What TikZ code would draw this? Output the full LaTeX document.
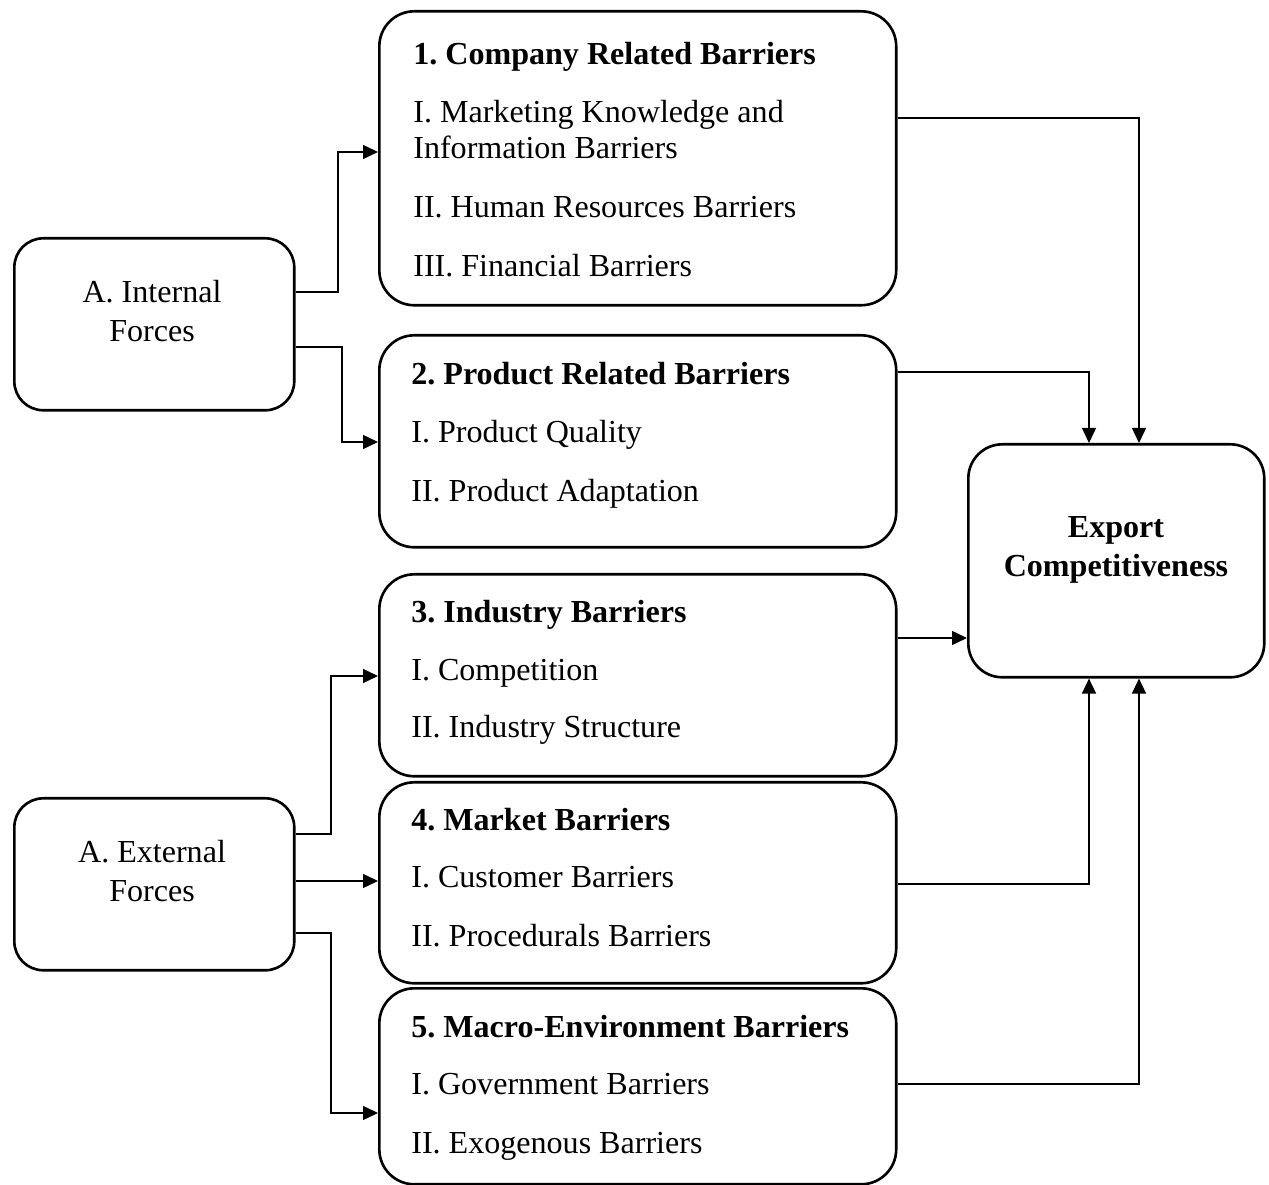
\documentclass[tikz,border=0pt]{standalone}
\usepackage{fontspec}
\setmainfont{Liberation Serif}
\usetikzlibrary{arrows.meta}
\begin{document}
\frenchspacing
\begin{tikzpicture}[x=0.02cm,y=-0.02cm,
 box/.style={draw, line width=1.5pt, rounded corners=0.7cm, inner sep=0pt, anchor=north west},
 sbox/.style={box, rounded corners=0.58cm},
 txt/.style={inner sep=0pt, anchor=base west, font=\fontsize{18.25}{21}\selectfont},
 ctxt/.style={txt, anchor=base},
 conn/.style={line width=0.8pt},
 arr/.style={conn, -{Triangle[length=0.3cm,width=0.28cm]}}]
\useasboundingbox (0,0) rectangle (1269,1185);

% boxes
\node[box, minimum width=10.34cm, minimum height=5.88cm] (comp) at (378,10) {};
\node[box, minimum width=10.34cm, minimum height=4.24cm] (prod) at (378,334) {};
\node[box, minimum width=10.34cm, minimum height=4.04cm] (ind) at (378,573) {};
\node[box, minimum width=10.34cm, minimum height=4.02cm] (mkt) at (378,781) {};
\node[box, minimum width=10.34cm, minimum height=3.92cm] (mac) at (378,987) {};
\node[sbox, minimum width=5.6cm, minimum height=3.44cm] (int) at (13,237) {};
\node[sbox, minimum width=5.6cm, minimum height=3.44cm] (ext) at (13,797) {};
\node[box, rounded corners=0.68cm, minimum width=5.92cm, minimum height=4.66cm] (exp) at (967,443) {};

% texts
\node[txt] (c0) at (413,65) {\textbf{1. Company Related Barriers}};
\node[txt] (c1) at (413,123) {I. Marketing Knowledge and};
\node[txt] (c1b) at (413,159) {Information Barriers};
\node[txt] (c2) at (413,218) {II. Human Resources Barriers};
\node[txt] (c3) at (413,277) {III. Financial Barriers};

\node[txt] (p0) at (411,385) {\textbf{2. Product Related Barriers}};
\node[txt] (p1) at (411,443) {I. Product Quality};
\node[txt] (p2) at (411,502) {II. Product Adaptation};

\node[txt] (i0) at (411,623) {\textbf{3. Industry Barriers}};
\node[txt] (i1) at (411,681) {I. Competition};
\node[txt] (i2) at (411,738) {II. Industry Structure};

\node[txt] (m0) at (411,831) {\textbf{4. Market Barriers}};
\node[txt] (m1) at (411,888) {I. Customer Barriers};
\node[txt] (m2) at (411,947) {II. Procedurals Barriers};

\node[txt] (e0) at (411,1037) {\textbf{5. Macro-Environment Barriers}};
\node[txt] (e1) at (411,1094) {I. Government Barriers};
\node[txt] (e2) at (411,1153) {II. Exogenous Barriers};

\node[ctxt] (it1) at (152,303) {A. Internal};
\node[ctxt] (it2) at (152,342) {Forces};
\node[ctxt] (et1) at (152,863) {A. External};
\node[ctxt] (et2) at (152,902) {Forces};
\node[ctxt] (x1) at (1116,538) {\textbf{Export}};
\node[ctxt] (x2) at (1116,577) {\textbf{Competitiveness}};

% connectors left
\draw[arr] (int.east |- 0,292) -- (338,292) |- (comp.west |- 0,152);
\draw[arr] (int.east |- 0,347) -- (342,347) |- (prod.west |- 0,442);
\draw[arr] (ext.east |- 0,834) -- (331,834) |- (ind.west |- 0,676);
\draw[arr] (ext.east |- 0,881) -- (mkt.west |- 0,881);
\draw[arr] (ext.east |- 0,933) -- (331,933) |- (mac.west |- 0,1113);

% connectors right
\draw[arr] (comp.east |- 0,118) -| (exp.north -| 1139,0);
\draw[arr] (prod.east |- 0,372) -| (exp.north -| 1089,0);
\draw[arr] (ind.east |- 0,638) -- (exp.west |- 0,638);
\draw[arr] (mkt.east |- 0,884) -| (exp.south -| 1089,0);
\draw[arr] (mac.east |- 0,1084) -| (exp.south -| 1139,0);
\end{tikzpicture}
\end{document}
